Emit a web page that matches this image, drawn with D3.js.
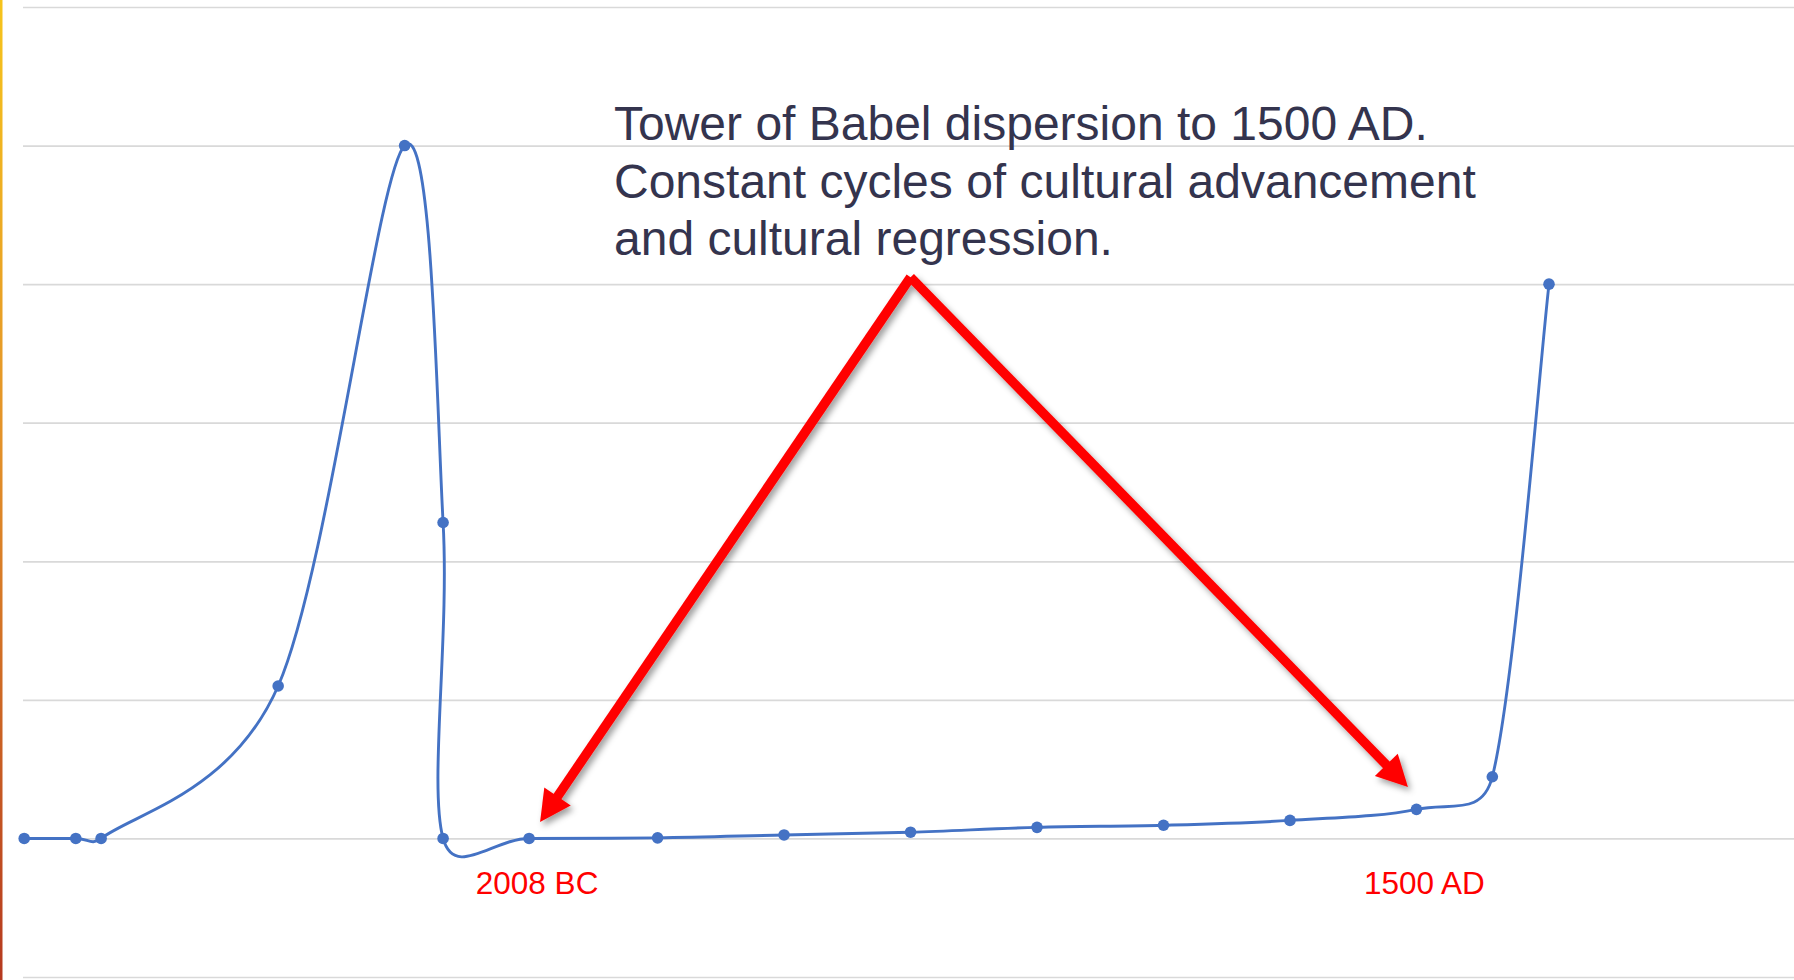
<!DOCTYPE html>
<html>
<head>
<meta charset="utf-8">
<script src="https://cdn.jsdelivr.net/npm/d3@7"></script>
<style>
  html, body { margin: 0; padding: 0; background: #ffffff; }
  svg { display: block; }
</style>
</head>
<body>
<svg id="chart" width="1794" height="980"></svg>
<script>
// Cultural level over time, year (negative = BC) against an index value
const years  = [-4004, -3800, -3700, -3000, -2500, -2348, -2348, -2008, -1500, -1000, -500, 0, 500, 1000, 1500, 1800, 2024];
const levels = [0, 0, 0, 1.1, 5, 2.28, 0, 0, 0.004, 0.025, 0.045, 0.08, 0.095, 0.13, 0.21, 0.445, 4];
const yTicks = [-1, 0, 1, 2, 3, 4, 5, 6];

// Annotation content
const noteLines = [
  "Tower of Babel dispersion to 1500 AD.",
  "Constant cycles of cultural advancement",
  "and cultural regression."
];
const eraYears  = [-2008, 1500];
const eraLabels = ["2008 BC", "1500 AD"];
const apexYear = -500, apexLevel = 4.05;

const W = 1794, H = 980;
const svg = d3.select("#chart");

const x = d3.scaleLinear().domain([-4004, 2024]).range([24.2, 1549]);
const y = d3.scaleLinear().domain([-1, 6]).range([977, 7]);

const defs = svg.append("defs");
const edge = defs.append("linearGradient").attr("id", "edgeGrad")
  .attr("x1", 0).attr("y1", 0).attr("x2", 0).attr("y2", 1);
edge.append("stop").attr("offset", "0%").attr("stop-color", "#f6c41c");
edge.append("stop").attr("offset", "45%").attr("stop-color", "#e3922a");
edge.append("stop").attr("offset", "100%").attr("stop-color", "#b5391f");

const shadow = defs.append("filter").attr("id", "arrowShadow")
  .attr("x", "-20%").attr("y", "-20%").attr("width", "140%").attr("height", "140%");
shadow.append("feDropShadow").attr("dx", 3).attr("dy", 4).attr("stdDeviation", 3)
  .attr("flood-color", "#000").attr("flood-opacity", 0.38);

// slide edge stripe
svg.append("rect").attr("x", 0).attr("y", 0).attr("width", 2.5).attr("height", H)
  .attr("fill", "url(#edgeGrad)");

// horizontal gridlines
const grid = svg.append("g").attr("transform", "translate(23,0)")
  .call(d3.axisLeft(y).tickValues(yTicks).tickSize(-(W - 23)).tickFormat(""));
grid.select(".domain").remove();
grid.selectAll(".tick line").attr("stroke", "#d9d9d9").attr("stroke-width", 1.7);

// smoothed line: cardinal-style tangents with arms limited by segment length
function smoothLimited(context) {
  let pts;
  return {
    areaStart() {}, areaEnd() {},
    lineStart() { pts = []; },
    point(px, py) { pts.push([+px, +py]); },
    lineEnd() {
      const n = pts.length;
      if (!n) return;
      context.moveTo(pts[0][0], pts[0][1]);
      if (n === 1) return;
      const tan = pts.map((p, i) => {
        const a = pts[Math.max(0, i - 1)], b = pts[Math.min(n - 1, i + 1)];
        const dx = b[0] - a[0], dy = b[1] - a[1];
        const len = Math.hypot(dx, dy) || 1;
        return { ux: dx / len, uy: dy / len, arm: len / 6 };
      });
      for (let i = 0; i < n - 1; i++) {
        const p = pts[i], q = pts[i + 1];
        const L = Math.hypot(q[0] - p[0], q[1] - p[1]);
        const a0 = Math.min(tan[i].arm, L * 0.5);
        const a1 = Math.min(tan[i + 1].arm, L * 0.5);
        context.bezierCurveTo(
          p[0] + tan[i].ux * a0, p[1] + tan[i].uy * a0,
          q[0] - tan[i + 1].ux * a1, q[1] - tan[i + 1].uy * a1,
          q[0], q[1]);
      }
    }
  };
}

const data = years.map((yr, i) => ({ year: yr, level: levels[i] }));

const line = d3.line().x(d => x(d.year)).y(d => y(d.level)).curve(smoothLimited);

svg.append("path").datum(data)
  .attr("d", line)
  .attr("fill", "none")
  .attr("stroke", "#4472c4")
  .attr("stroke-width", 2.9)
  .attr("stroke-linejoin", "round");

svg.append("g").selectAll("circle").data(data).join("circle")
  .attr("cx", d => x(d.year)).attr("cy", d => y(d.level)).attr("r", 5.8)
  .attr("fill", "#4472c4");

// annotation text
const note = svg.append("text")
  .attr("x", 614).attr("y", 140)
  .attr("font-family", "'Liberation Sans', Arial, sans-serif")
  .attr("font-size", 48)
  .attr("fill", "#34344e");
note.selectAll("tspan").data(noteLines).join("tspan")
  .attr("x", 614).attr("dy", (d, i) => i === 0 ? 0 : 57.5)
  .text(d => d);

// red arrows from the note to the two era points
const apex = [x(apexYear), y(apexLevel)];
const tipOffsets = [[11, -16.4], [-8.5, -22.3]];
const arrows = svg.append("g").attr("filter", "url(#arrowShadow)");
eraYears.forEach((yr, i) => {
  const lvl = levels[years.indexOf(yr)];
  const tip = [x(yr) + tipOffsets[i][0], y(lvl) + tipOffsets[i][1]];
  const dx = tip[0] - apex[0], dy = tip[1] - apex[1];
  const len = Math.hypot(dx, dy);
  const ux = dx / len, uy = dy / len, nx = -uy, ny = ux;
  const hl = 31, hw = 32;
  const base = [tip[0] - ux * hl, tip[1] - uy * hl];
  arrows.append("line")
    .attr("x1", apex[0]).attr("y1", apex[1])
    .attr("x2", base[0] + ux * 2).attr("y2", base[1] + uy * 2)
    .attr("stroke", "#ff0000").attr("stroke-width", 9.5).attr("stroke-linecap", "butt");
  arrows.append("path")
    .attr("d", `M${tip[0]},${tip[1]}L${base[0] + nx * hw / 2},${base[1] + ny * hw / 2}L${base[0] - nx * hw / 2},${base[1] - ny * hw / 2}Z`)
    .attr("fill", "#ff0000");
});

// era labels under the baseline
svg.append("g").selectAll("text").data(eraYears).join("text")
  .attr("x", d => x(d) + 8).attr("y", 894)
  .attr("text-anchor", "middle")
  .attr("font-family", "'Liberation Sans', Arial, sans-serif")
  .attr("font-size", 31.5)
  .attr("fill", "#ff0000")
  .text((d, i) => eraLabels[i]);
</script>
</body>
</html>
